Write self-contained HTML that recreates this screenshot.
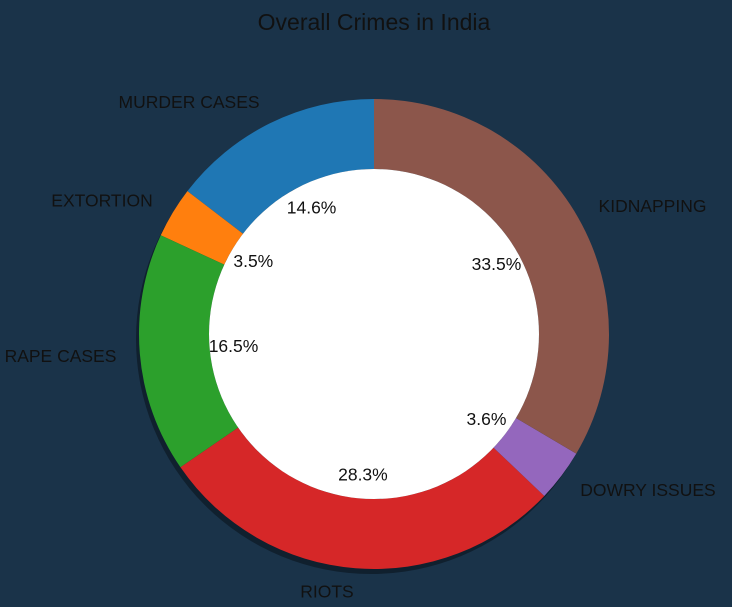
<!DOCTYPE html>
<html><head><meta charset="utf-8"><style>
html,body{margin:0;padding:0;background:#1a3349;}
svg{display:block;font-family:"Liberation Sans","DejaVu Sans",sans-serif;}
</style></head><body>
<svg id="chart" width="732" height="607" viewBox="0 0 732 607">
<rect width="732" height="607" fill="#1a3349"/>
<text x="374" y="30" font-size="23" text-anchor="middle" fill="#111">Overall Crimes in India</text>
<g id="shadow"></g><g id="slices"></g><g id="labels"></g>
</svg>
<script>
const categories = ["MURDER CASES","EXTORTION","RAPE CASES","RIOTS","DOWRY ISSUES","KIDNAPPING"];
const values = [14.6,3.5,16.5,28.3,3.6,33.5];
const pctLabels = ["14.6%","3.5%","16.5%","28.3%","3.6%","33.5%"];
const colors = ["#1f77b4","#ff7f0e","#2ca02c","#d62728","#9467bd","#8c564b"];
const cx=374, cy=334, R=235, r=165;
const NS="http://www.w3.org/2000/svg";
const total=values.reduce((a,b)=>a+b,0);
function pt(rad,ang){return [cx+rad*Math.cos(ang), cy-rad*Math.sin(ang)];}
function arc(a0,a1,ro,ri,ox,oy){
  const large=(a1-a0)>Math.PI?1:0;
  const p0=pt(ro,a0),p1=pt(ro,a1),q1=pt(ri,a1),q0=pt(ri,a0);
  const f=p=>(p[0]+ox)+","+(p[1]+oy);
  return "M"+f(p0)+" A"+ro+","+ro+" 0 "+large+" 0 "+f(p1)+" L"+f(q1)+" A"+ri+","+ri+" 0 "+large+" 1 "+f(q0)+"Z";
}
const sh=document.createElementNS(NS,"path");
sh.setAttribute("d","M"+(cx-R-3)+","+(cy+5)+" a"+R+","+R+" 0 1 0 "+(2*R)+",0 a"+R+","+R+" 0 1 0 "+(-2*R)+",0Z");
sh.setAttribute("fill","#0e1c28");sh.setAttribute("opacity","0.8");


document.getElementById("shadow").appendChild(sh);
let a=Math.PI/2;
values.forEach((v,i)=>{
  const a1=a+v/total*2*Math.PI;
  const p=document.createElementNS(NS,"path");
  p.setAttribute("d",arc(a,a1,R,r,0,0));
  p.setAttribute("fill",colors[i]);
  
  
  document.getElementById("slices").appendChild(p);
  const mid=(a+a1)/2;
  const lp=pt(R*1.1,mid);
  const t=document.createElementNS(NS,"text");
  t.setAttribute("x",lp[0]);t.setAttribute("y",lp[1]+6);
  t.setAttribute("font-size","17.5");t.setAttribute("fill","#111");
  t.setAttribute("text-anchor",Math.cos(mid)<0?"end":"start");
  t.textContent=categories[i];
  
  
  document.getElementById("labels").appendChild(t);
  const pp=pt(R*0.6,mid);
  const u=document.createElementNS(NS,"text");
  u.setAttribute("x",pp[0]);u.setAttribute("y",pp[1]+6);
  u.setAttribute("font-size","17.5");u.setAttribute("fill","#111");
  u.setAttribute("text-anchor","middle");
  u.textContent=pctLabels[i];
  
  
  document.getElementById("labels").appendChild(u);
  a=a1;
});
const hole=document.createElementNS(NS,"circle");
hole.setAttribute("cx",cx);hole.setAttribute("cy",cy);hole.setAttribute("r",r);hole.setAttribute("fill","#fff");


document.getElementById("slices").appendChild(hole);
</script>
</body></html>
